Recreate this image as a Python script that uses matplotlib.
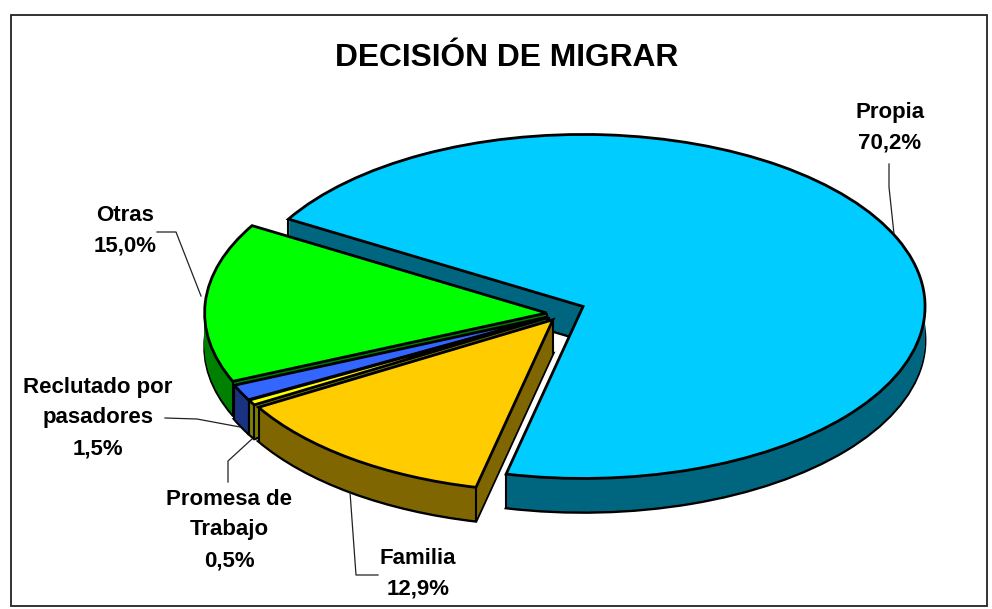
import matplotlib
matplotlib.use("Agg")
import numpy as np
import matplotlib.pyplot as plt
from matplotlib.patches import Wedge, Rectangle

plt.rcParams['font.family'] = ['Liberation Sans', 'DejaVu Sans']

title = "DECISIÓN DE MIGRAR"
categories = ["Propia", "Otras", "Reclutado por\npasadores", "Promesa de\nTrabajo", "Familia"]
values = [70.2, 15.0, 1.5, 0.5, 12.9]
value_labels = ["70,2%", "15,0%", "1,5%", "0,5%", "12,9%"]
explode = [0.067, 0.045, 0.045, 0.045, 0.045]
lift_px = [2.5, 0, 0, 0, 0]
top_colors = ["#00CCFF", "#00FF00", "#3366FF", "#FFFF00", "#FFCC00"]
side_colors = ["#006680", "#008000", "#1A3380", "#808000", "#806600"]
label_pos = [(890, 128), (125, 231), (98, 418), (229, 530), (418, 574)]
leaders = [
    [(889, 164), (889, 187), (894, 234)],
    [(157, 232), (176, 232), (201, 296)],
    [(165, 418), (197, 419), (240, 427)],
    [(228, 482), (228, 461), (252, 439)],
    [(350, 492), (356, 575), (378, 575)],
]

W, H = 992, 609
cx, cy, rx, ry = 562, 313.5, 342, 172
depth_px = 34

fig = plt.figure(figsize=(W / 100, H / 100), dpi=100, facecolor="white")

# Overlay in pixel coordinates for frame, labels and leader lines
pix = fig.add_axes([0, 0, 1, 1], zorder=0)
pix.set_xlim(0, W)
pix.set_ylim(H, 0)
pix.axis("off")
pix.add_patch(Rectangle((10.5, 15), 976, 591, fc="white", ec="#222222", lw=1.3))

# Pie axes: non-equal aspect turns the circle into the tilted ellipse
ax = fig.add_axes([0, 0, 1, 1], zorder=1)
ax.patch.set_alpha(0)
wedges, _ = ax.pie(values, explode=explode, startangle=257, counterclock=True,
                   colors=top_colors, normalize=True,
                   wedgeprops=dict(edgecolor="black", linewidth=2.0, joinstyle="miter"))
ax.set_aspect("auto")
ax.set_xlim((0 - cx) / rx, (W - cx) / rx)
ax.set_ylim((cy - H) / ry, cy / ry)
ax.axis("off")

dy = 1.0 / ry
for i, w in enumerate(wedges):
    base = 10 * i
    x0, y0 = w.center
    y0 += lift_px[i] * dy
    w.set_center((x0, y0))
    w.set_zorder(base + 5)
    # extruded wall: stack of dark copies from the bottom up
    for k in range(depth_px, 0, -1):
        s = Wedge((x0, y0 - k * dy), w.r, w.theta1, w.theta2, fc=side_colors[i],
                  ec="black" if k == depth_px else "none",
                  lw=2.0 if k == depth_px else 0, joinstyle="miter",
                  zorder=base + 1)
        ax.add_patch(s)
    # vertical corner lines
    xs = [x0]
    ys = [y0]
    for t in (w.theta1, w.theta2):
        xs.append(x0 + w.r * np.cos(np.radians(t)))
        ys.append(y0 + w.r * np.sin(np.radians(t)))
    for xv, yv in zip(xs, ys):
        ax.plot([xv, xv], [yv, yv - depth_px * dy], color="black", lw=1.5, zorder=base + 2,
                solid_capstyle="butt")

pix2 = fig.add_axes([0, 0, 1, 1], zorder=2)
pix2.set_xlim(0, W)
pix2.set_ylim(H, 0)
pix2.axis("off")
pix2.patch.set_alpha(0)

pix2.text(507, 58, title, fontsize=22.9, fontweight="bold", ha="center", va="center", color="black")
for cat, val, pos, pts in zip(categories, value_labels, label_pos, leaders):
    pix2.text(pos[0], pos[1], f"{cat}\n{val}", fontsize=16, fontweight="bold",
              ha="center", va="center", linespacing=1.6, color="black")
    pix2.plot([p[0] for p in pts], [p[1] for p in pts], color="#222222", lw=0.9)

fig.savefig("out.png", dpi=100)
